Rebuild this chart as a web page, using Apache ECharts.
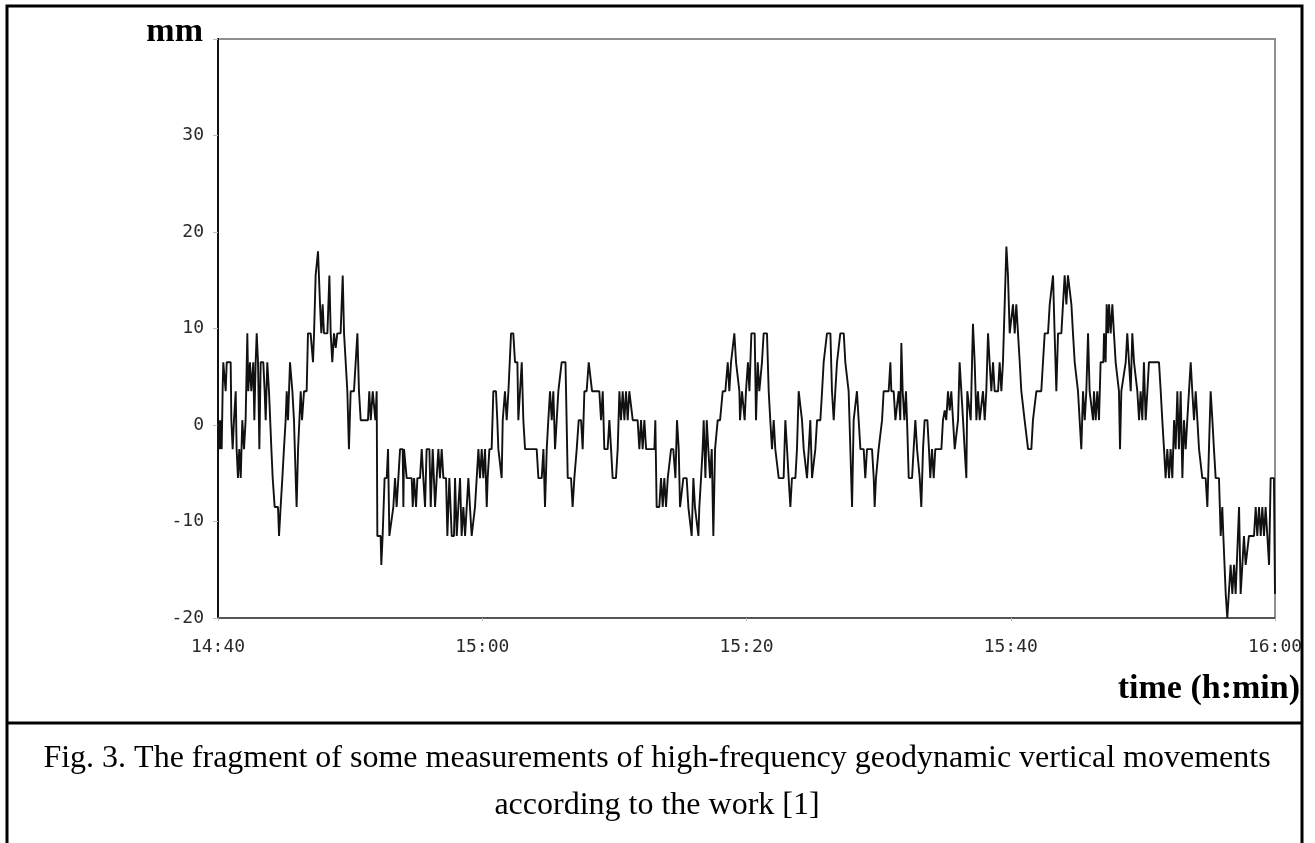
<!DOCTYPE html>
<html>
<head>
<meta charset="utf-8">
<script src="https://cdn.jsdelivr.net/npm/echarts@6/dist/echarts.min.js"></script>
<style>
html,body{margin:0;padding:0;background:#fff;}
#c{width:1315px;height:843px;}
</style>
</head>
<body>
<div id="c"></div>
<script>
// Tick labels of the time axis (minutes after 14:40, every 20 min)
const xTickLabels = ['14:40', '15:00', '15:20', '15:40', '16:00'];
const yAxisName = 'mm';
const xAxisName = 'time (h:min)';
const captionLines = [
  'Fig. 3. The fragment of some measurements of high-frequency geodynamic vertical movements',
  'according to the work [1]'
];
// Readings: [minutes after 14:40, vertical movement in mm]
const readings = [
[0.00,-2.5],[0.05,0.5],[0.13,-2.5],[0.20,0.5],[0.28,-2.5],[0.35,3.5],[0.40,6.5],[0.53,6.5],[0.58,3.5],[0.66,6.5],[0.96,6.5],[1.01,0.5],[1.11,-2.5],[1.21,0.5],[1.34,3.5],[1.41,-2.5],[1.51,-5.5],[1.61,-2.5],[1.72,-5.5],[1.84,0.5],[1.97,-2.5],[2.09,0.5],[2.22,9.5],[2.29,3.5],[2.42,6.5],[2.52,3.5],[2.67,6.5],[2.75,0.5],[2.85,6.5],[2.93,9.5],[3.03,6.5],[3.13,-2.5],[3.23,6.5],[3.43,6.5],[3.53,3.5],[3.61,0.5],[3.73,6.5],[3.86,3.5],[4.04,-2.5],[4.14,-5.5],[4.29,-8.5],[4.54,-8.5],[4.62,-11.5],[4.74,-8.5],[4.87,-5.5],[4.99,-2.5],[5.12,0.5],[5.20,3.5],[5.30,0.5],[5.45,6.5],[5.63,3.5],[5.75,0.5],[5.88,-5.5],[5.95,-8.5],[6.06,-2.5],[6.16,0.5],[6.26,3.5],[6.36,0.5],[6.51,3.5],[6.71,3.5],[6.81,9.5],[7.01,9.5],[7.19,6.5],[7.27,9.5],[7.39,15.5],[7.57,18],[7.72,12.5],[7.82,9.5],[7.92,12.5],[8.02,9.5],[8.28,9.5],[8.43,15.5],[8.53,9.5],[8.65,6.5],[8.78,9.5],[8.91,8],[9.03,9.5],[9.28,9.5],[9.44,15.5],[9.54,9.5],[9.69,9.5],[9.79,3.5],[9.91,-2.5],[10.04,3.5],[10.29,3.5],[10.55,9.5],[10.67,3.5],[10.80,0.5],[11.35,0.5],[11.45,3.5],[11.56,0.5],[11.71,3.5],[11.81,3.5],[11.91,0.5],[12.01,3.5],[12.06,-11.5],[12.31,-11.5],[12.36,-14.5],[12.46,-11.5],[12.61,-5.5],[12.77,-5.5],[12.87,-2.5],[12.97,-11.5],
[13.02,-11.5],[13.27,-8.5],[13.40,-5.5],[13.52,-8.5],[13.65,-5.5],[13.78,-2.5],[13.98,-2.5],[14.03,-8.5],[14.08,-2.5],[14.28,-5.5],[14.66,-5.5],[14.74,-8.5],[14.84,-5.5],[14.99,-8.5],[15.09,-5.5],[15.29,-5.5],[15.42,-2.5],[15.54,-5.5],[15.67,-8.5],[15.79,-2.5],[16.00,-2.5],[16.10,-8.5],[16.25,-2.5],[16.43,-8.5],[16.55,-5.5],[16.68,-2.5],[16.80,-5.5],[16.93,-2.5],[17.06,-5.5],[17.26,-5.5],[17.36,-11.5],[17.51,-5.5],[17.69,-11.5],[17.86,-11.5],[17.94,-5.5],[18.07,-11.5],[18.19,-8.5],[18.32,-5.5],[18.44,-11.5],[18.57,-8.5],[18.70,-11.5],[18.95,-5.5],[19.07,-8.5],[19.20,-11.5],[19.33,-11.5],[19.45,-8.5],[19.58,-5.5],[19.71,-2.5],[19.83,-5.5],[19.96,-2.5],[20.08,-5.5],[20.21,-2.5],[20.34,-8.5],[20.41,-5.5],[20.54,-2.5],[20.71,-2.5],[20.84,3.5],[21.04,3.5],[21.14,0.5],[21.22,-2.5],[21.35,-2.5],[21.47,-5.5],[21.55,0.5],[21.72,3.5],[21.85,0.5],[21.98,3.5],[22.10,3.5],[22.18,9.5],[22.35,9.5],[22.48,6.5],[22.66,6.5],[22.73,0.5],[22.86,3.5],[22.99,6.5],[23.11,0.5],[23.24,-2.5],[24.12,-2.5],[24.25,-5.5],[24.50,-5.5],[24.63,-2.5],[24.75,-8.5],[24.88,-2.5],[25.00,0.5],[25.13,3.5],[25.26,0.5],[25.38,3.5],[25.51,-2.5],[25.63,-2.5],[25.76,3.5],[25.89,3.5],[26.01,6.5],[26.30,6.5],
[26.47,-5.5],[26.72,-5.5],[26.84,-8.5],[26.97,-5.5],[27.15,-2.5],[27.30,0.5],[27.48,0.5],[27.60,-2.5],[27.73,3.5],[27.90,3.5],[28.06,6.5],[28.16,6.5],[28.31,3.5],[28.86,3.5],[28.99,0.5],[29.12,3.5],[29.24,-2.5],[29.49,-2.5],[29.62,0.5],[29.75,-2.5],[29.87,-5.5],[30.12,-5.5],[30.25,-2.5],[30.38,3.5],[30.50,0.5],[30.63,3.5],[30.76,0.5],[30.88,3.5],[31.01,0.5],[31.13,3.5],[31.26,3.5],[31.39,0.5],[31.76,0.5],[31.89,-2.5],[32.02,0.5],[32.14,-2.5],[32.27,0.5],[32.40,-2.5],[33.03,-2.5],[33.10,0.5],[33.20,-8.5],[33.40,-8.5],[33.53,-5.5],[33.66,-8.5],[33.78,-5.5],[33.91,-8.5],[34.04,-5.5],[34.29,-2.5],[34.46,-2.5],[34.62,-5.5],[34.74,0.5],[34.87,-2.5],[34.97,-8.5],[35.12,-8.5],[35.22,-5.5],[35.47,-5.5],[35.60,-8.5],[35.73,-8.5],[35.85,-11.5],[35.98,-5.5],[36.10,-8.5],[36.23,-8.5],[36.36,-11.5],[36.43,-8.5],[36.56,-5.5],[36.68,-2.5],[36.76,0.5],[36.89,-5.5],[36.99,0.5],[37.11,-2.5],[37.24,-5.5],[37.37,-2.5],[37.49,-11.5],[37.62,-2.5],[37.82,0.5],[38.00,0.5],[38.20,3.5],[38.40,3.5],[38.58,6.5],[38.70,3.5],[38.83,6.5],[38.96,6.5],[39.08,9.5],[39.21,6.5],[39.33,6.5],[39.46,3.5],[39.51,0.5],[39.66,3.5],
[39.86,0.5],[39.96,3.5],[40.11,6.5],[40.22,3.5],[40.37,9.5],[40.62,9.5],[40.72,0.5],[40.85,6.5],[40.97,3.5],[41.17,6.5],[41.30,9.5],[41.55,9.5],[41.68,3.5],[41.80,0.5],[41.93,-2.5],[42.06,0.5],[42.18,-2.5],[42.44,-5.5],[42.81,-5.5],[42.94,0.5],[43.07,-2.5],[43.19,-5.5],[43.32,-8.5],[43.44,-5.5],[43.70,-5.5],[43.82,-2.5],[43.95,3.5],[44.08,3.5],[44.20,0.5],[44.33,-2.5],[44.58,-5.5],[44.71,-2.5],[44.83,0.5],[44.96,-5.5],[45.08,-5.5],[45.21,-2.5],[45.34,0.5],[45.59,0.5],[45.72,3.5],[45.84,6.5],[45.97,6.5],[46.09,9.5],[46.35,9.5],[46.47,3.5],[46.60,0.5],[46.72,3.5],[46.85,6.5],[46.98,6.5],[47.10,9.5],[47.36,9.5],[47.48,6.5],[47.61,6.5],[47.73,3.5],[47.86,3.5],[47.99,-8.5],[48.11,0.5],[48.24,0.5],[48.36,3.5],[48.49,0.5],[48.62,-2.5],[48.87,-2.5],[48.99,-5.5],[49.12,-2.5],[49.50,-2.5],[49.63,-5.5],[49.70,-8.5],[49.80,-5.5],[50.00,-2.5],[50.13,-2.5],[50.26,0.5],[50.38,3.5],[50.76,3.5],[50.89,6.5],[50.96,3.5],[51.14,3.5],[51.27,0.5],[51.39,0.5],[51.52,3.5],[51.64,0.5],[51.72,8.5],[51.82,3.5],[51.95,0.5],[52.07,3.5],[52.15,0.5],[52.28,-5.5],[52.53,-5.5],[52.65,-2.5],[52.78,0.5],[52.91,-2.5],
[53.11,-5.5],[53.23,-8.5],[53.36,-2.5],[53.48,0.5],[53.69,0.5],[53.81,-2.5],[53.91,-5.5],[54.04,-2.5],[54.17,-5.5],[54.29,-2.5],[54.75,-2.5],[54.87,0.5],[55.00,1.5],[55.12,0.5],[55.25,3.5],[55.38,1.5],[55.50,3.5],[55.63,0.5],[55.76,-2.5],[55.88,-2.5],[56.01,0.5],[56.13,6.5],[56.26,6.5],[56.39,0.5],[56.51,-2.5],[56.64,-5.5],[56.71,3.5],[56.81,3.5],[56.97,0.5],[57.07,6.5],[57.14,10.5],[57.27,6.5],[57.40,0.5],[57.52,3.5],[57.65,0.5],[57.77,0.5],[57.90,3.5],[58.03,0.5],[58.15,3.5],[58.28,9.5],[58.40,6.5],[58.53,3.5],[58.66,6.5],[58.78,3.5],[59.04,3.5],[59.16,6.5],[59.29,3.5],[59.41,6.5],[59.54,12.5],[59.67,18.5],[59.79,15.5],[59.92,9.5],[60.04,9.5],[60.17,12.5],[60.30,9.5],[60.42,12.5],[60.55,9.5],[60.68,6.5],[60.80,3.5],[60.93,3.5],[61.05,0.5],[61.31,-2.5],[61.56,-2.5],[61.68,0.5],[61.81,0.5],[61.94,3.5],[62.31,3.5],[62.44,6.5],[62.57,9.5],[62.82,9.5],[62.95,12.5],[63.07,12.5],[63.20,15.5],[63.32,9.5],[63.45,3.5],[63.58,9.5],[63.83,9.5],[64.08,15.5],[64.21,12.5],[64.33,15.5],[64.46,15.5],[64.59,12.5],[64.71,9.5],[64.84,6.5],[64.96,6.5],[65.09,3.5],[65.22,3.5],[65.34,-2.5],[65.47,3.5],[65.60,0.5],[65.72,3.5],[65.85,9.5],[65.97,3.5],[66.10,3.5],[66.23,0.5],
[66.30,3.5],[66.43,0.5],[66.55,3.5],[66.68,0.5],[66.80,6.5],[67.01,6.5],[67.06,9.5],[67.18,6.5],[67.26,12.5],[67.36,9.5],[67.44,12.5],[67.56,9.5],[67.69,12.5],[67.81,9.5],[67.94,6.5],[68.07,6.5],[68.19,3.5],[68.27,-2.5],[68.37,3.5],[68.52,3.5],[68.70,6.5],[68.82,9.5],[68.95,9.5],[69.08,3.5],[69.20,9.5],[69.33,6.5],[69.45,6.5],[69.58,3.5],[69.71,0.5],[69.83,3.5],[69.96,0.5],[70.08,6.5],[70.21,0.5],[70.34,3.5],[70.46,6.5],[71.22,6.5],[71.35,3.5],[71.47,0.5],[71.60,-2.5],[71.72,-5.5],[71.85,-2.5],[71.98,-5.5],[72.10,-2.5],[72.23,-5.5],[72.36,0.5],[72.48,-2.5],[72.61,3.5],[72.73,-2.5],[72.86,3.5],[72.99,-5.5],[73.11,0.5],[73.24,-2.5],[73.36,0.5],[73.49,3.5],[73.62,6.5],[73.74,3.5],[73.87,0.5],[74.00,3.5],[74.12,3.5],[74.25,-2.5],[74.37,-2.5],[74.50,-5.5],[74.75,-5.5],[74.88,-8.5],[75.00,-2.5],[75.13,3.5],[75.26,0.5],[75.38,-2.5],[75.51,-5.5],[75.76,-5.5],[75.89,-11.5],[76.01,-8.5],[76.09,-11.5],[76.19,-11.5],[76.27,-17.5],[76.39,-20],[76.52,-20],[76.64,-14.5],[76.77,-17.5],[76.90,-14.5],[77.02,-17.5],[77.15,-17.5],[77.28,-8.5],[77.40,-17.5],[77.53,-14.5],[77.65,-11.5],[77.78,-14.5],[77.91,-14.5],[78.03,-11.5],[78.41,-11.5],[78.54,-8.5],[78.66,-11.5],[78.79,-8.5],[78.92,-11.5],[79.04,-8.5],[79.17,-11.5],[79.29,-8.5],[79.42,-11.5],[79.55,-14.5],[79.67,-5.5],[79.92,-5.5],[80.00,-17.5]
];

const chart = echarts.init(document.getElementById('c'), null, {renderer: 'canvas', width: 1315, height: 843});
const tickFont = {fontFamily: 'DejaVu Sans Mono', fontSize: 18, color: '#2a2a2a'};
chart.setOption({
  backgroundColor: '#ffffff',
  animation: false,
  grid: {left: 218, top: 39, width: 1057, height: 579, show: true, borderColor: '#8f8f8f', borderWidth: 2, backgroundColor: 'transparent'},
  xAxis: {
    type: 'value', min: 0, max: 80, interval: 20,
    axisLine: {show: true, onZero: false, lineStyle: {color: '#555', width: 2}},
    axisTick: {show: true, length: 3, lineStyle: {color: '#bbb'}},
    splitLine: {show: false},
    axisLabel: Object.assign({margin: 20, formatter: v => xTickLabels[Math.round(v / 20)] || ''}, tickFont)
  },
  yAxis: {
    type: 'value', min: -20, max: 40, interval: 10,
    axisLine: {show: true, onZero: false, lineStyle: {color: '#111', width: 2}},
    axisTick: {show: true, length: 5, lineStyle: {color: '#bbb'}},
    splitLine: {show: false},
    axisLabel: Object.assign({margin: 14, formatter: v => (v === 40 ? '' : String(v))}, tickFont)
  },
  series: [{
    type: 'line', data: readings, showSymbol: false, clip: true,
    lineStyle: {color: '#111', width: 1.9}
  }],
  graphic: [
    {type: 'text', z: 100, x: 203, y: 32, style: {text: yAxisName, font: 'bold 34px "Liberation Serif"', fill: '#000', textAlign: 'right', textVerticalAlign: 'middle'}},
    {type: 'text', z: 100, x: 1300, y: 689, style: {text: xAxisName, font: 'bold 34px "Liberation Serif"', fill: '#000', textAlign: 'right', textVerticalAlign: 'middle'}},
    {type: 'text', z: 100, x: 657, y: 759, style: {text: captionLines[0], font: '32px "Liberation Serif"', fill: '#000', textAlign: 'center', textVerticalAlign: 'middle'}},
    {type: 'text', z: 100, x: 657, y: 806, style: {text: captionLines[1], font: '32px "Liberation Serif"', fill: '#000', textAlign: 'center', textVerticalAlign: 'middle'}},
    {type: 'line', z: 100, shape: {x1: 7, y1: 723, x2: 1302, y2: 723}, style: {stroke: '#000', lineWidth: 3}},
    {type: 'rect', z: 100, shape: {x: 7, y: 6, width: 1295, height: 845}, style: {stroke: '#000', lineWidth: 3, fill: null}}
  ]
});
</script>
</body>
</html>
